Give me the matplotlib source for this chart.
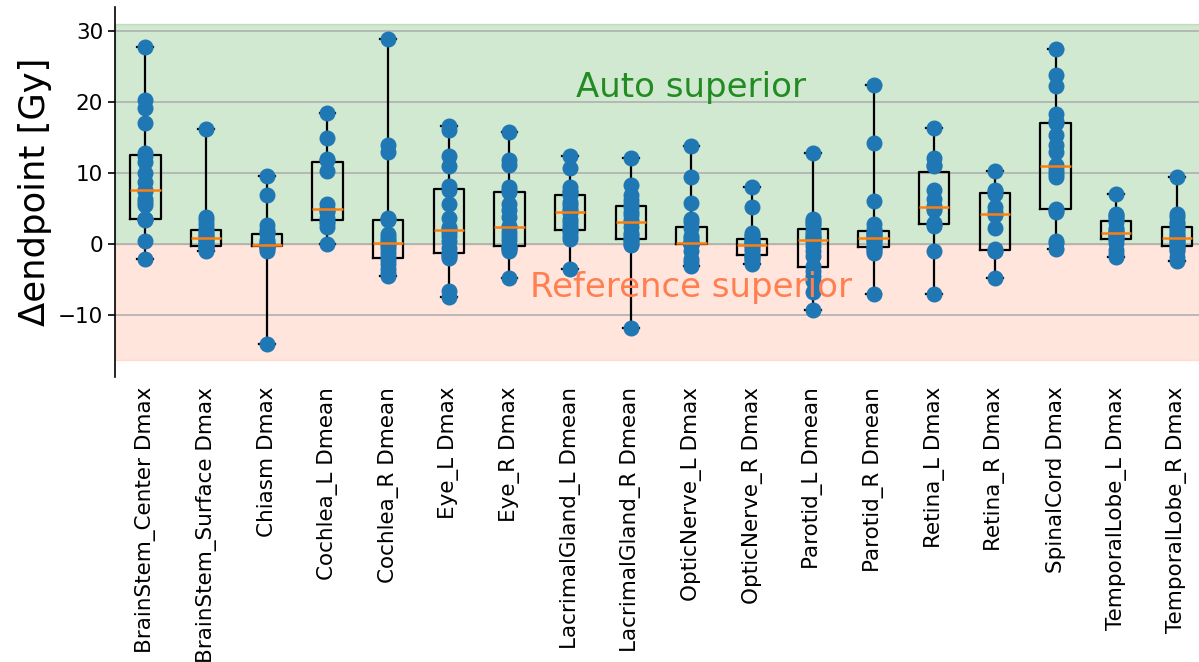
import matplotlib
matplotlib.use('Agg')
import matplotlib.pyplot as plt

labels = ['BrainStem_Center Dmax', 'BrainStem_Surface Dmax', 'Chiasm Dmax',
          'Cochlea_L Dmean', 'Cochlea_R Dmean', 'Eye_L Dmax', 'Eye_R Dmax',
          'LacrimalGland_L Dmean', 'LacrimalGland_R Dmean', 'OpticNerve_L Dmax',
          'OpticNerve_R Dmax', 'Parotid_L Dmean', 'Parotid_R Dmean',
          'Retina_L Dmax', 'Retina_R Dmax', 'SpinalCord Dmax',
          'TemporalLobe_L Dmax', 'TemporalLobe_R Dmax']

# delta endpoint per patient (Gy)
brainstem_center = [-2.1, 0.5, 3.4, 3.5, 3.5, 3.6, 5.5, 6.0, 6.4, 7.5, 7.7, 8.8, 10.0,
                    11.5, 12.4, 12.8, 17.0, 19.1, 20.3, 27.8]
brainstem_surface = [-0.9, -0.6, -0.4, -0.3, -0.25, -0.2, 0.0, 0.3, 0.6, 0.8, 1.0, 1.2,
                     1.5, 1.8, 2.0, 2.3, 2.9, 3.4, 3.9, 16.2]
chiasm = [-14.0, -0.9, -0.6, -0.4, -0.3, -0.25, -0.2, -0.1, -0.05, -0.05, -0.05, 0.0,
          0.3, 0.6, 1.4, 1.8, 2.0, 2.7, 7.0, 9.6]
cochlea_l = [0.0, 2.4, 3.0, 3.3, 3.7, 4.5, 4.8, 5.0, 5.7, 10.3, 11.9, 12.0, 14.9, 18.4]
cochlea_r = [-4.4, -4.0, -3.4, -2.8, -2.2, -1.8, -1.2, -0.6, -0.2, 0.1, 0.35, 0.6, 1.0,
             1.5, 3.4, 3.6, 3.7, 13.0, 13.9, 28.8]
eye_l = [-7.4, -6.6, -1.9, -1.6, -1.4, -1.2, -0.5, 0.5, 1.2, 1.8, 2.1, 2.5, 3.7, 5.6,
         7.6, 8.2, 11.0, 12.4, 16.1, 16.6]
eye_r = [-4.8, -0.9, -0.6, -0.5, -0.35, -0.25, 0.6, 1.2, 1.8, 2.4, 2.6, 3.9, 4.8, 5.7,
         7.3, 7.7, 8.1, 11.1, 11.8, 15.8]
lacrimal_l = [-3.4, 0.8, 1.2, 1.8, 2.0, 2.1, 2.6, 3.2, 3.6, 4.4, 4.7, 5.0, 5.5, 6.0,
              6.9, 7.3, 7.5, 8.0, 10.7, 12.4]
lacrimal_r = [-11.7, -0.1, 0.1, 0.4, 0.65, 0.85, 1.3, 1.6, 2.4, 3.1, 3.4, 4.1, 4.6, 5.2,
              5.6, 6.2, 7.0, 8.3, 12.1]
optic_l = [-3.0, -2.5, -2.0, -1.0, -0.1, 0.03, 0.05, 0.1, 0.15, 0.2, 0.26, 0.5, 0.9,
           1.2, 2.3, 3.1, 3.6, 5.8, 9.5, 13.8]
optic_r = [-2.7, -2.4, -2.0, -1.8, -1.6, -1.5, -1.0, -0.6, -0.3, -0.1, 0.0, 0.2, 0.3,
           0.5, 0.7, 1.1, 1.3, 1.6, 5.3, 8.1]
parotid_l = [-9.3, -6.7, -5.1, -4.4, -3.8, -3.0, -1.7, -0.9, -0.2, 0.4, 0.7, 0.9, 1.2,
             1.5, 1.9, 2.7, 3.0, 3.3, 3.6, 12.9]
parotid_r = [-7.0, -1.2, -0.9, -0.6, -0.45, -0.35, -0.1, 0.3, 0.6, 0.8, 1.0, 1.2, 1.4,
             1.6, 1.8, 2.2, 2.9, 6.1, 14.2, 22.4]
retina_l = [-7.0, -0.9, 2.6, 2.9, 2.95, 4.8, 5.1, 5.4, 6.4, 7.7, 11.0, 11.2, 12.1, 16.3]
retina_r = [-4.8, -0.9, -0.9, -0.7, 2.3, 4.1, 4.5, 5.3, 7.1, 7.5, 7.6, 10.3]
spinalcord = [-0.6, 0.2, 0.5, 4.6, 4.8, 5.0, 9.5, 9.9, 10.3, 10.8, 11.2, 13.0, 13.9,
              15.4, 17.0, 17.4, 18.3, 22.2, 23.8, 27.4]
temporal_l = [-1.8, -1.3, -0.8, 0.2, 0.7, 0.8, 1.0, 1.2, 1.4, 1.64, 1.8, 2.0, 2.3, 3.1,
              3.5, 3.8, 4.1, 4.3, 7.1]
temporal_r = [-2.3, -1.8, -1.0, -0.6, -0.35, -0.25, 0.0, 0.3, 0.6, 0.8, 1.0, 1.3, 1.6,
              2.0, 2.3, 2.9, 3.1, 3.8, 4.3, 9.5]

data = [brainstem_center, brainstem_surface, chiasm, cochlea_l, cochlea_r, eye_l, eye_r,
        lacrimal_l, lacrimal_r, optic_l, optic_r, parotid_l, parotid_r, retina_l,
        retina_r, spinalcord, temporal_l, temporal_r]

auto_span = (0, 31.0)
ref_span = (-16.3, 0)

fig = plt.figure(figsize=(11.99, 6.62), dpi=100)
ax = fig.add_axes([115 / 1199, 0.4305, 0.911, 0.5589])

ax.axhspan(*auto_span, color='green', alpha=0.18)
ax.axhspan(*ref_span, color='coral', alpha=0.2)
ax.yaxis.grid(True, color='#b0b0b0', lw=1.2)

pos = list(range(1, len(data) + 1))
ax.boxplot(data, positions=pos, whis=(0, 100), showfliers=False, widths=0.5,
           capwidths=0.26,
           boxprops=dict(color='black', lw=1.6),
           whiskerprops=dict(color='black', lw=1.6),
           capprops=dict(color='black', lw=1.6),
           medianprops=dict(color='C1', lw=1.8, zorder=4))
for p, vals in zip(pos, data):
    ax.plot([p] * len(vals), vals, 'o', color='C0', ms=10.5, zorder=3)

ax.text(10, 22, 'Auto superior', color='forestgreen', fontsize=24.5,
        ha='center', va='center')
ax.text(10, -6, 'Reference superior', color='coral', fontsize=24.5,
        ha='center', va='center')

ax.set_xlim(0.5, 18.5)
ax.set_ylim(-18.65, 33.35)
ax.set_xticks(pos)
ax.set_xticklabels(labels, rotation=90, fontsize=15.5)
ax.tick_params(axis='x', length=0, pad=7)
ax.tick_params(axis='y', labelsize=15.5, length=5, width=1.2)
ax.set_ylabel('Δendpoint [Gy]', fontsize=25.5)
for s in ['top', 'right', 'bottom']:
    ax.spines[s].set_visible(False)
ax.spines['left'].set_linewidth(1.2)

fig.savefig('out.png', dpi=100)
